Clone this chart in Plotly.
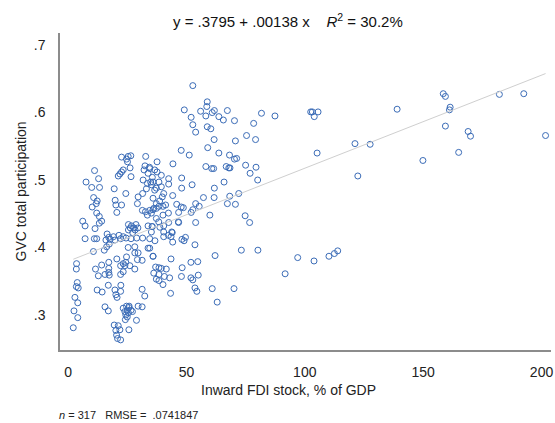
import plotly.graph_objects as go

# ---- data ----
fdi = [
 102.5,103.2,105.6,104,105.2,121.2,127.6,122.4,139,149.9,158.5,159.4,161.4,161.1,159.4,165,169,170,182.2,192.5,201.7,
 91.7,97,103.9,110.2,112.5,113.9,
 73.2,80.2,62.1,60.9,70.1,63,74.8,76.7,67.3,70.7,68.3,72.1,59.9,61.7,57.2,53.6,53.9,52,52.7,53.9,55.4,54.8,51.9,55,51.9,52.7,53.6,54.4,
 48.2,47.9,43.3,43.5,49.6,48.1,46.6,42.5,48.7,45.9,44.2,42.4,40.1,40.4,44,43.5,44.2,40.4,42.4,35.9,37,38.4,39.4,41.5,36.2,38.4,40.7,42.9,37.3,38.4,40.1,35.6,35.2,34.5,
 52.7,49.1,58.8,58.6,60.9,61.8,58.2,56,63.7,65.6,67.3,70.3,52,52.7,53.9,58.8,60.3,81.7,87.4,78.4,75.4,79.2,70.7,61.7,59,63.7,68.2,70.3,71.2,47.8,51.2,37.6,44.3,
 58.2,60.7,61.5,66.8,67.9,68.4,75,79.4,76.9,80.1,65.9,61.8,52.4,48,48,42.5,42.5,
 34.5,36.6,37.6,39.4,35.6,35.9,38.4,39.4,37.3,35.2,36.6,40.4,39.8,35.9,38.4,40.1,37.3,35.9,35.2,
 22.6,24.7,25.4,26.5,25.1,32.8,11.2,26.2,32.5,34.4,32.1,33.8,22.6,23.3,21.9,21.2,26.6,31.7,34.9,33.5,7.6,12.9,10,13.3,19.5,24.4,33.1,31.5,38.7,41.2,37.3,
 10.8,12.3,10.2,11.9,19.9,22.6,20.2,29.6,29.3,12.1,13.2,20.6,31.4,32.7,34.5,36.2,33.5,37.3,38.3,46.7,47.8,14.2,6.2,7.2,11.4,13.2,
 25.5,26.8,27.8,28.7,26.3,29.5,25.5,28.3,27.3,33.8,35.5,38.8,40.4,46.7,43.8,7.2,11.1,12.1,
 16.5,17.2,17.8,16,19.8,19.2,21.5,22.2,23.3,24.5,26.6,29,31.5,34.5,36.7,49,
 3.6,3.5,3.9,3.5,4.3,2.9,4.1,2.5,4.1,2.2,10.7,11.6,12.8,14.2,15.6,17.2,17.2,17.2,17.4,12.3,14.4,17,15.6,17,15.3,16.3,17.4,
 20.6,22.2,23.3,24,24.4,24.7,23.3,22.2,25.4,28.2,28.2,29.6,31.3,29.3,28.2,26.1,22.3,19.8,22.2,20.2,20.7,
 23.3,24.7,25.7,25,25.5,24.4,25,24.2,25.8,26.6,27.2,24,19.5,21.2,20.2,21.9,25.7,20.9,22.2,20.5,28.9,29.6,31.3,31.3,32.4,33.8,35.9,
]
gvc = [
 .601,.601,.601,.594,.540,.554,.553,.506,.605,.529,.628,.624,.608,.604,.580,.541,.572,.565,.627,.628,.566,
 .361,.385,.380,.387,.391,.395,
 .396,.396,.388,.339,.339,.319,.447,.437,.465,.464,.476,.480,.448,.474,.474,.404,.437,.452,.456,.465,.461,.379,.378,.359,.355,.352,.340,.335,
 .370,.357,.332,.383,.415,.412,.438,.437,.459,.464,.477,.451,.448,.423,.422,.416,.408,.416,.418,.387,.371,.370,.369,.368,.362,.360,.357,.355,.353,.351,.345,.431,.423,.399,
 .640,.604,.616,.609,.600,.603,.595,.602,.594,.589,.603,.588,.593,.582,.571,.579,.576,.599,.595,.584,.566,.560,.558,.560,.548,.540,.537,.531,.532,.544,.537,.527,.524,
 .520,.517,.517,.520,.518,.518,.522,.519,.510,.500,.497,.488,.493,.503,.488,.502,.494,
 .517,.515,.512,.507,.504,.497,.497,.490,.488,.493,.485,.480,.475,.473,.461,.461,.458,.456,.451,
 .534,.531,.535,.536,.527,.535,.514,.518,.521,.519,.515,.510,.512,.515,.509,.506,.505,.500,.497,.495,.497,.502,.489,.489,.487,.480,.487,.480,.469,.463,.465,
 .474,.469,.460,.465,.470,.463,.463,.475,.465,.451,.446,.452,.455,.453,.455,.458,.448,.443,.438,.452,.460,.439,.439,.432,.428,.436,
 .434,.432,.429,.434,.429,.429,.426,.426,.422,.432,.431,.430,.432,.437,.423,.413,.413,.413,
 .420,.415,.412,.411,.411,.416,.418,.413,.416,.414,.413,.414,.414,.413,.410,.410,
 .376,.368,.348,.342,.340,.326,.318,.306,.296,.281,.394,.368,.358,.374,.360,.378,.369,.363,.359,.337,.334,.344,.312,.306,.396,.401,.405,
 .383,.373,.376,.373,.378,.386,.364,.360,.400,.401,.392,.392,.381,.382,.368,.373,.344,.337,.335,.330,.326,
 .310,.313,.311,.307,.303,.300,.297,.293,.313,.307,.305,.305,.285,.284,.277,.278,.278,.265,.263,.270,.292,.313,.312,.338,.328,.399,.387,
]

intercept = 0.3795
slope = 0.00138
r2_pct = "30.2"
n_obs = 317
rmse = ".0741847"

x_ticks = [0, 50, 100, 150, 200]
x_ticklabels = ["0", "50", "100", "150", "200"]
y_ticks = [0.3, 0.4, 0.5, 0.6, 0.7]
y_ticklabels = [".3", ".4", ".5", ".6", ".7"]

# fitted line across the observed x range
xmin, xmax = min(fdi), max(fdi)
line_x = [xmin, xmax]
line_y = [intercept + slope * v for v in line_x]

FONT = "Liberation Sans, Arial, sans-serif"
W, H = 555, 423
ML, MR, MT, MB = 60, 2, 33, 73
plot_w = W - ML - MR
plot_h = H - MT - MB

fig = go.Figure()
fig.add_trace(go.Scatter(
    x=fdi, y=gvc, mode="markers",
    marker=dict(symbol="circle-open", size=6, color="#3b6cb7", line=dict(width=1, color="#3b6cb7")),
    showlegend=False, hoverinfo="x+y",
))
fig.add_trace(go.Scatter(
    x=line_x, y=line_y, mode="lines",
    line=dict(color="#cfcfcf", width=1),
    showlegend=False, hoverinfo="skip",
))

fig.update_layout(
    width=W, height=H,
    margin=dict(l=ML, r=MR, t=MT, b=MB),
    paper_bgcolor="white", plot_bgcolor="white",
    font=dict(family=FONT, size=14, color="#222222"),
    xaxis=dict(
        range=[-3.4, 204], tickvals=x_ticks, ticktext=x_ticklabels,
        showgrid=False, zeroline=False, showline=True, linecolor="#8c8c8c", linewidth=1.5,
        ticks="", ticklabelstandoff=8, ticklabeloverflow="allow",
        tickfont=dict(size=14, color="#222222"),
    ),
    yaxis=dict(
        range=[0.248, 0.718], tickvals=y_ticks, ticktext=y_ticklabels,
        showgrid=False, zeroline=False, showline=True, linecolor="#8c8c8c", linewidth=1.5,
        ticks="", ticklabelstandoff=10, tickfont=dict(size=14, color="#222222"),
    ),
    annotations=[
        dict(text=f"y = .3795 + .00138 x\u00a0\u00a0\u00a0\u00a0<i>R</i><sup>2</sup> = {r2_pct}%",
             x=(289 - ML) / plot_w, y=1 + (MT - 20) / plot_h, xref="paper", yref="paper", showarrow=False,
             font=dict(size=15, color="#111111"), xanchor="center", yanchor="middle"),
        dict(text="Inward FDI stock, % of GDP", x=(289 - ML) / plot_w, y=0, xref="paper", yref="paper",
             showarrow=False, font=dict(size=14, color="#222222"), yshift=-40,
             xanchor="center", yanchor="middle"),
        dict(text="GVC total participation", x=0, y=0.5, xref="paper", yref="paper",
             showarrow=False, textangle=-90, font=dict(size=14, color="#222222"),
             xshift=-40, xanchor="center", yanchor="middle"),
        dict(text=f"<i>n</i> = {n_obs}\u00a0\u00a0\u00a0RMSE = \u00a0{rmse}", x=0, y=0, xref="paper", yref="paper",
             showarrow=False, font=dict(size=11, color="#222222"), xshift=-3, yshift=-65,
             xanchor="left", yanchor="middle"),
    ],
)

fig.write_html("out.html", config={"displayModeBar": False},
               post_script="document.body.style.margin='0';document.body.style.overflow='hidden';")
